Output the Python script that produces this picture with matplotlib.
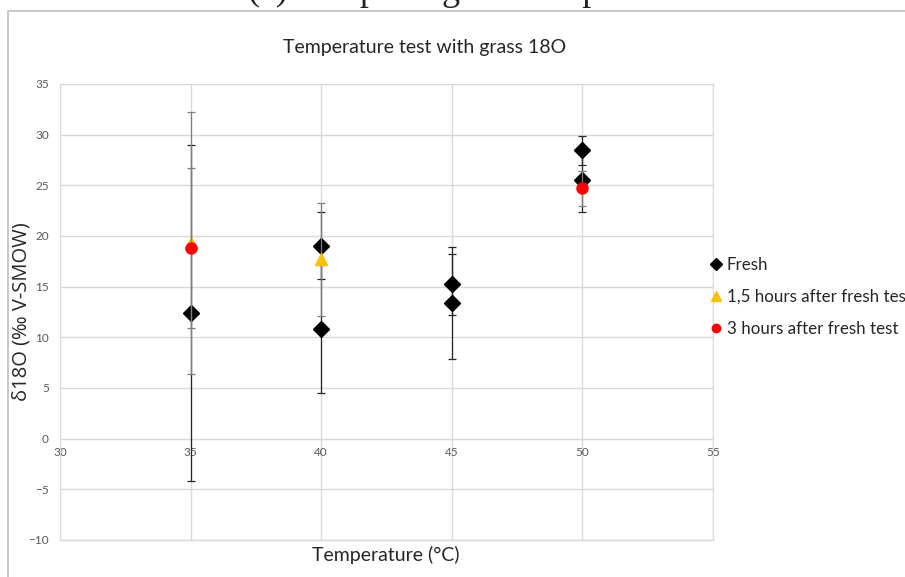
import matplotlib.pyplot as plt
from matplotlib.lines import Line2D
from matplotlib.patches import Rectangle

# measurements: temperature (°C), δ18O (‰ V-SMOW), error (±)
fresh_temp = [35, 40, 40, 45, 45, 50, 50]
fresh_d18o = [12.4, 19.05, 10.85, 15.25, 13.4, 28.45, 25.55]
fresh_err = [16.6, 3.3, 6.3, 3.0, 5.5, 1.45, 3.15]

h15_temp = [35, 40]
h15_d18o = [19.3, 17.7]
h15_err = [12.9, 5.55]

h3_temp = [35, 50]
h3_d18o = [18.8, 24.7]
h3_err = [7.9, 1.7]

x_ticks = [30, 35, 40, 45, 50, 55]
y_ticks = [-10, -5, 0, 5, 10, 15, 20, 25, 30, 35]

W, H = 905, 577
fig = plt.figure(figsize=(W / 100, H / 100), dpi=100)
ax = fig.add_axes([60 / W, (H - 540) / H, 653 / W, 456 / H])

grid_c = '#d9d9d9'
tick_c = '#595959'
text_c = '#262626'
sans = ['Lato', 'DejaVu Sans']

series = [
    (fresh_temp, fresh_d18o, fresh_err, 'D', 'black', 8, '#262626', 'Fresh'),
    (h15_temp, h15_d18o, h15_err, '^', '#FFC000', 9, '#7f7f7f',
     '1,5 hours after fresh test'),
    (h3_temp, h3_d18o, h3_err, 'o', '#FF0000', 8, '#7f7f7f',
     '3 hours after fresh test'),
]
handles = []
for i, (xs, ys, es, mk, col, ms, ecol, name) in enumerate(series):
    ax.errorbar(xs, ys, yerr=es, fmt=mk, color=col, ms=ms, ecolor=ecol,
                elinewidth=0.9, capsize=3, capthick=0.9, zorder=3 + i)
    handles.append(Line2D([], [], ls='none', marker=mk, color=col,
                          ms=ms * 0.75, label=name))

ax.set_xlim(30, 55)
ax.set_ylim(-10, 35)
ax.set_xticks(x_ticks)
ax.set_yticks(y_ticks)
ax.grid(True, color=grid_c, lw=1)
ax.set_axisbelow(True)

for side in ['top', 'right', 'left']:
    ax.spines[side].set_color(grid_c)
# x axis crosses at y = 0
ax.spines['bottom'].set_position(('data', 0))
ax.spines['bottom'].set_color(grid_c)
ax.plot([30, 55], [-10, -10], color=grid_c, lw=1, clip_on=False, zorder=1)

ax.tick_params(length=0, colors=tick_c, labelsize=8.5)
ax.tick_params(axis='x', pad=6)
ax.tick_params(axis='y', pad=8)
for lab in ax.get_xticklabels() + ax.get_yticklabels():
    lab.set_family(sans)

fig.text(425 / W, 1 - 48 / H, 'Temperature test with grass 18O', fontsize=14,
         family=sans, color=text_c, ha='center', va='center')
fig.text(386 / W, 1 - 555 / H, 'Temperature (°C)', fontsize=14, family=sans,
         color=text_c, ha='center', va='center')
fig.text(22 / W, 1 - 312 / H, 'δ18O (‰ V-SMOW)', fontsize=14.5,
         family=['Open Sans', 'DejaVu Sans'], color=text_c,
         rotation=90, ha='center', va='center')

leg = ax.legend(handles=handles, loc='center left',
                bbox_to_anchor=(0.986, 0.533), frameon=False,
                handlelength=0.6, handletextpad=0.35, labelspacing=0.95,
                borderaxespad=0, prop={'family': sans, 'size': 12.2})
for t in leg.get_texts():
    t.set_color(text_c)

# chart frame and clipped caption above it
fig.add_artist(Rectangle((8 / W, -0.1), 1.2, 1 - 11 / H + 0.1,
                         transform=fig.transFigure, fill=False,
                         edgecolor='#bfbfbf', lw=1.2))
fig.text(248 / W, 1 + 0.5 / H, '(a) Temp. range of samples',
         fontsize=26, family=['Liberation Serif', 'DejaVu Serif'],
         color='#222222', va='baseline', ha='left')

fig.savefig('out.png', dpi=100, facecolor='white')
